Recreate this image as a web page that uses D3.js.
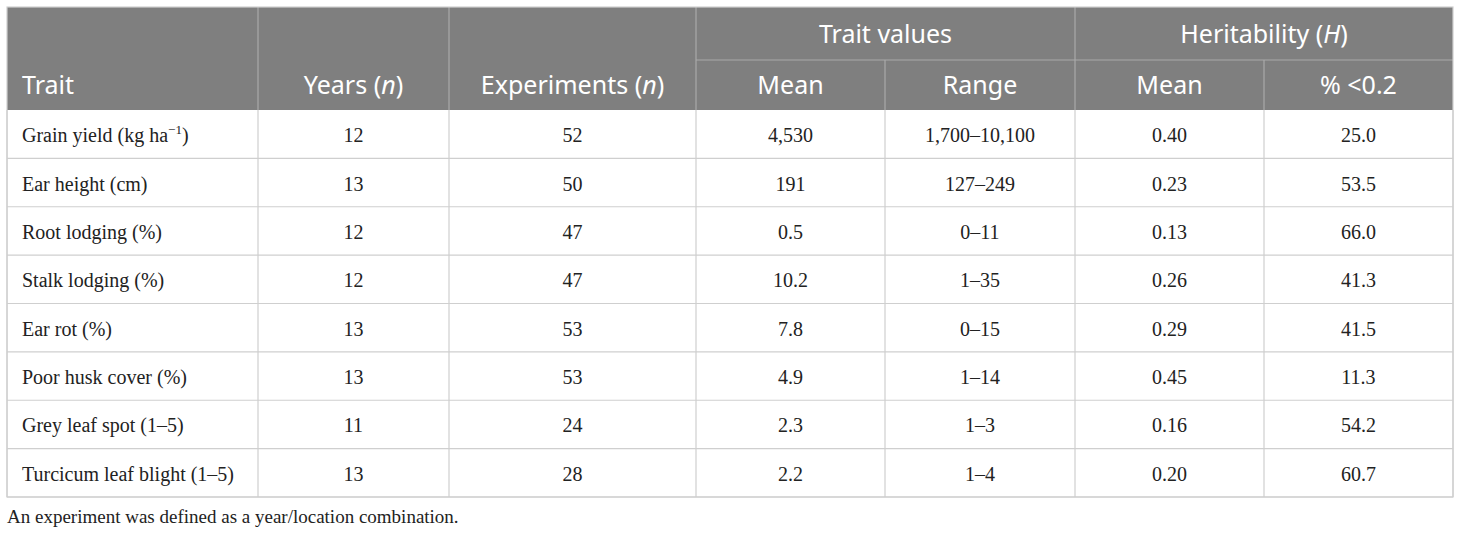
<!DOCTYPE html>
<html>
<head>
<meta charset="utf-8">
<script src="https://cdn.jsdelivr.net/npm/d3@7"></script>
<style>
  html, body { margin: 0; padding: 0; background: #ffffff; }
  svg { display: block; }
</style>
</head>
<body>
<div id="chart"></div>
<script>
// table contents
const traits = [
  "Grain yield (kg ha|−1|)",
  "Ear height (cm)",
  "Root lodging (%)",
  "Stalk lodging (%)",
  "Ear rot (%)",
  "Poor husk cover (%)",
  "Grey leaf spot (1–5)",
  "Turcicum leaf blight (1–5)"
];
const years = ["12", "13", "12", "12", "13", "13", "11", "13"];
const experiments = ["52", "50", "47", "47", "53", "53", "24", "28"];
const traitMean = ["4,530", "191", "0.5", "10.2", "7.8", "4.9", "2.3", "2.2"];
const traitRange = ["1,700–10,100", "127–249", "0–11", "1–35", "0–15", "1–14", "1–3", "1–4"];
const herMean = ["0.40", "0.23", "0.13", "0.26", "0.29", "0.45", "0.16", "0.20"];
const herPct = ["25.0", "53.5", "66.0", "41.3", "41.5", "11.3", "54.2", "60.7"];
const footnote = "An experiment was defined as a year/location combination.";

const W = 1460, H = 535;
const tLeft = 7, tRight = 1453, tTop = 7, midHead = 60, headBottom = 110, tableBottom = 497;

const colKeys = ["trait", "years", "exp", "tmean", "trange", "hmean", "hpct"];
const colEdges = [tLeft, 258, 449, 696, 885, 1075, 1264, tRight];
const colX0 = d3.scaleOrdinal().domain(colKeys).range(colEdges.slice(0, 7));
const colX1 = d3.scaleOrdinal().domain(colKeys).range(colEdges.slice(1));
const colMid = k => (colX0(k) + colX1(k)) / 2;

const y = d3.scaleBand()
  .domain(d3.range(traits.length))
  .range([headBottom, tableBottom]);

const svg = d3.select("#chart").append("svg")
  .attr("width", W).attr("height", H);

const headFill = "#7f7f7f", headLine = "#a9a9a9", bodyLine = "#cfcfcf";
const headFont = "'Noto Sans', 'Open Sans', sans-serif";
const bodyFont = "'Liberation Serif', 'DejaVu Serif', serif";

// header background
svg.append("rect")
  .attr("x", tLeft).attr("y", tTop)
  .attr("width", tRight - tLeft).attr("height", headBottom - tTop)
  .attr("fill", headFill);

// header lines
svg.selectAll("line.hv").data([258, 449, 696, 1075]).enter().append("line")
  .attr("x1", d => d).attr("x2", d => d)
  .attr("y1", tTop).attr("y2", headBottom)
  .attr("stroke", headLine).attr("stroke-width", 1.2);
svg.selectAll("line.hv2").data([885, 1264]).enter().append("line")
  .attr("x1", d => d).attr("x2", d => d)
  .attr("y1", midHead).attr("y2", headBottom)
  .attr("stroke", headLine).attr("stroke-width", 1.2);
svg.append("line")
  .attr("x1", 696).attr("x2", tRight)
  .attr("y1", midHead).attr("y2", midHead)
  .attr("stroke", headLine).attr("stroke-width", 1.2);

// header text
const headSize = 25;
function headText(x, yy, parts, anchor) {
  const t = svg.append("text")
    .attr("x", x).attr("y", yy)
    .attr("text-anchor", anchor || "middle")
    .attr("fill", "#ffffff")
    .attr("font-family", headFont)
    .attr("font-size", headSize);
  parts.forEach(p => {
    t.append("tspan").text(p.t).attr("font-style", p.i ? "italic" : null);
  });
}
const row2Base = 94, row1Base = 43;
headText(22, row2Base, [{ t: "Trait" }], "start");
headText(colMid("years"), row2Base, [{ t: "Years (" }, { t: "n", i: true }, { t: ")" }]);
headText(colMid("exp"), row2Base, [{ t: "Experiments (" }, { t: "n", i: true }, { t: ")" }]);
headText((696 + 1075) / 2, row1Base, [{ t: "Trait values" }]);
headText((1075 + tRight) / 2, row1Base, [{ t: "Heritability (" }, { t: "H", i: true }, { t: ")" }]);
headText(colMid("tmean"), row2Base, [{ t: "Mean" }]);
headText(colMid("trange"), row2Base, [{ t: "Range" }]);
headText(colMid("hmean"), row2Base, [{ t: "Mean" }]);
headText(colMid("hpct"), row2Base, [{ t: "% <0.2" }]);

// body grid
const rowIdx = d3.range(traits.length);
svg.selectAll("line.rowline").data(rowIdx).enter().append("line")
  .attr("x1", tLeft).attr("x2", tRight)
  .attr("y1", d => y(d) + y.bandwidth()).attr("y2", d => y(d) + y.bandwidth())
  .attr("stroke", bodyLine).attr("stroke-width", 1.2);
svg.selectAll("line.colline").data(colEdges).enter().append("line")
  .attr("x1", d => d).attr("x2", d => d)
  .attr("y1", headBottom).attr("y2", tableBottom)
  .attr("stroke", bodyLine).attr("stroke-width", 1.2);
svg.append("rect")
  .attr("x", tLeft).attr("y", tTop)
  .attr("width", tRight - tLeft).attr("height", tableBottom - tTop)
  .attr("fill", "none").attr("stroke", bodyLine).attr("stroke-width", 1.2);

// body text
const bodySize = 20;
const columns = { years, exp: experiments, tmean: traitMean, trange: traitRange, hmean: herMean, hpct: herPct };
const baseOff = y.bandwidth() / 2 + 8;

svg.selectAll("text.trait").data(traits).enter().append("text")
  .attr("class", "trait")
  .attr("x", 22)
  .attr("y", (d, i) => y(i) + baseOff)
  .attr("font-family", bodyFont)
  .attr("font-size", bodySize)
  .attr("fill", "#222222")
  .each(function (d) {
    const parts = d.split("|");
    const t = d3.select(this);
    t.append("tspan").text(parts[0]);
    if (parts.length > 1) {
      t.append("tspan").text(parts[1]).attr("font-size", 13).attr("dy", -8);
      t.append("tspan").text(parts[2]).attr("dy", 8);
    }
  });

Object.keys(columns).forEach(k => {
  svg.selectAll("text.c-" + k).data(columns[k]).enter().append("text")
    .attr("class", "c-" + k)
    .attr("x", colMid(k))
    .attr("y", (d, i) => y(i) + baseOff)
    .attr("text-anchor", "middle")
    .attr("font-family", bodyFont)
    .attr("font-size", bodySize)
    .attr("fill", "#222222")
    .text(d => d);
});

// footnote
svg.append("text")
  .attr("x", 7).attr("y", 523)
  .attr("font-family", bodyFont)
  .attr("font-size", 19)
  .attr("fill", "#222222")
  .text(footnote);
</script>
</body>
</html>
